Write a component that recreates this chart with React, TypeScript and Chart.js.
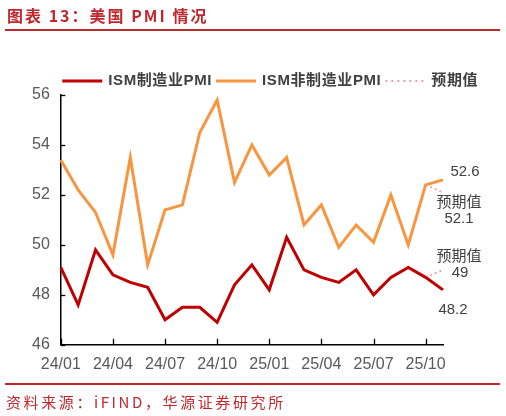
import React, { useEffect, useRef } from 'react';
import { Chart, registerables } from 'chart.js';

Chart.register(...registerables);

// ---- data ----
const categories = [
  '24/01', '24/02', '24/03', '24/04', '24/05', '24/06', '24/07', '24/08', '24/09', '24/10', '24/11', '24/12',
  '25/01', '25/02', '25/03', '25/04', '25/05', '25/06', '25/07', '25/08', '25/09', '25/10', '25/11',
];
const xTickLabels = ['24/01', '24/04', '24/07', '24/10', '25/01', '25/04', '25/07', '25/10'];
const yTickValues = [46, 48, 50, 52, 54, 56];

const ismManufacturing = [
  49.1, 47.6, 49.8, 48.8, 48.5, 48.3, 47.0, 47.5, 47.5, 46.9, 48.4, 49.2,
  48.2, 50.3, 49.0, 48.7, 48.5, 49.0, 48.0, 48.7, 49.1, 48.7, 48.2,
];
const ismNonManufacturing = [
  53.4, 52.2, 51.3, 49.6, 53.5, 49.2, 51.4, 51.6, 54.5, 55.8, 52.5, 54.0,
  52.8, 53.5, 50.8, 51.6, 49.9, 50.8, 50.1, 52.0, 50.0, 52.4, 52.6,
];
const manufacturingForecast = [
  null, null, null, null, null, null, null, null, null, null, null, null,
  null, null, null, null, null, null, null, null, null, 48.7, 49.0,
];
const nonManufacturingForecast = [
  null, null, null, null, null, null, null, null, null, null, null, null,
  null, null, null, null, null, null, null, null, null, 52.4, 52.1,
];

const seriesNames = ['ISM制造业PMI', 'ISM非制造业PMI', '预期值'];
const forecastLabel = '预期值';

// ---- styles ----
const RED = '#C00000';
const ORANGE = '#F8953E';
const PINK = '#E9A3AC';
const FONT = "'Liberation Sans', 'Noto Sans CJK SC', sans-serif";
const TEXT = '#404040';
const AXIS_TEXT = '#595959';
const BRAND = '#C0282E';

const legendPlugin = {
  id: 'customLegend',
  afterDraw(chart: any) {
    const ctx = chart.ctx;
    const items = [
      { text: seriesNames[0], color: RED, dash: [] as number[], width: 3 },
      { text: seriesNames[1], color: ORANGE, dash: [] as number[], width: 3 },
      { text: seriesNames[2], color: PINK, dash: [2, 4], width: 2 },
    ];
    ctx.save();
    ctx.font = `bold 15px ${FONT}`;
    try { (ctx as any).letterSpacing = '0.6px'; } catch (e) { /* ignore */ }
    ctx.textBaseline = 'middle';
    ctx.textAlign = 'left';
    let x = chart.chartArea.left + 1.5;
    const y = chart.chartArea.top - 14;
    items.forEach((it) => {
      const boxW = 40;
      ctx.beginPath();
      ctx.setLineDash(it.dash);
      ctx.strokeStyle = it.color;
      ctx.lineWidth = it.width;
      ctx.moveTo(x, y);
      ctx.lineTo(x + boxW, y);
      ctx.stroke();
      ctx.setLineDash([]);
      ctx.fillStyle = TEXT;
      const tx = x + boxW + 6;
      ctx.fillText(it.text, tx, y);
      x = tx + ctx.measureText(it.text).width + 4;
    });
    ctx.restore();
  },
};

const ticksPlugin = {
  id: 'innerTicks',
  afterDatasetsDraw(chart: any) {
    const ctx = chart.ctx;
    const { left, bottom } = chart.chartArea;
    const xs = chart.scales.x;
    const ys = chart.scales.y;
    ctx.save();
    ctx.strokeStyle = '#000000';
    ctx.lineWidth = 1.3;
    ys.ticks.forEach((_t: any, i: number) => {
      const y = Math.round(ys.getPixelForTick(i)) + 0.5;
      ctx.beginPath();
      ctx.moveTo(left, y);
      ctx.lineTo(left + 4.5, y);
      ctx.stroke();
    });
    xs.ticks.forEach((_t: any, i: number) => {
      const x = Math.round(xs.getPixelForTick(i)) + 0.5;
      ctx.beginPath();
      ctx.moveTo(x, bottom);
      ctx.lineTo(x, bottom - 6);
      ctx.stroke();
    });
    ctx.restore();
  },
};

const annotationPlugin = {
  id: 'endLabels',
  afterDatasetsDraw(chart: any) {
    const ctx = chart.ctx;
    const xs = chart.scales.x;
    const ys = chart.scales.y;
    const last = categories.length - 1;
    const x = xs.getPixelForValue(last);
    ctx.save();
    ctx.font = `15px ${FONT}`;
    ctx.fillStyle = TEXT;
    ctx.textAlign = 'center';
    ctx.textBaseline = 'middle';
    const nmVal = ismNonManufacturing[last];
    ctx.fillText(String(nmVal), x + 22, ys.getPixelForValue(nmVal) - 8);
    const nmF = nonManufacturingForecast[last] as number;
    const yNmF = ys.getPixelForValue(nmF);
    ctx.fillText(forecastLabel, x + 16, yNmF + 10);
    ctx.fillText(String(nmF), x + 16, yNmF + 26);
    const mF = manufacturingForecast[last] as number;
    const yMF = ys.getPixelForValue(mF);
    ctx.fillText(forecastLabel, x + 16, yMF - 13);
    ctx.fillText(String(mF), x + 17, yMF + 3);
    const mVal = ismManufacturing[last];
    ctx.fillText(String(mVal), x + 10, ys.getPixelForValue(mVal) + 20);
    ctx.restore();
  },
};

function PmiChart() {
  const ref = useRef<HTMLCanvasElement | null>(null);
  useEffect(() => {
    if (!ref.current) return;
    const chart = new Chart(ref.current, {
      type: 'line',
      data: {
        labels: categories,
        datasets: [
          {
            label: seriesNames[0],
            data: ismManufacturing,
            borderColor: RED,
            backgroundColor: RED,
            borderWidth: 3,
            pointRadius: 0,
            tension: 0,
          },
          {
            label: seriesNames[1],
            data: ismNonManufacturing,
            borderColor: ORANGE,
            backgroundColor: ORANGE,
            borderWidth: 3,
            pointRadius: 0,
            tension: 0,
          },
          {
            label: seriesNames[2],
            data: manufacturingForecast,
            borderColor: PINK,
            borderWidth: 2,
            borderDash: [2, 3],
            pointRadius: 0,
            spanGaps: false,
          },
          {
            label: seriesNames[2] + ' ',
            data: nonManufacturingForecast,
            borderColor: PINK,
            borderWidth: 2,
            borderDash: [2, 3],
            pointRadius: 0,
            spanGaps: false,
          },
        ],
      },
      options: {
        animation: false,
        responsive: false,
        devicePixelRatio: 1,
        layout: { padding: { top: 95, bottom: 32, left: 21, right: 63 } },
        plugins: {
          legend: { display: false },
          tooltip: { enabled: false },
        },
        scales: {
          x: {
            type: 'category',
            offset: false,
            grid: { display: false, drawTicks: false },
            border: { display: true, color: '#000000', width: 1.5 },
            afterBuildTicks: (scale: any) => {
              scale.ticks = scale.ticks.filter((t: any) => xTickLabels.includes(categories[t.value]));
            },
            ticks: {
              autoSkip: false,
              maxRotation: 0,
              padding: 10,
              color: AXIS_TEXT,
              font: { family: FONT, size: 16 },
            },
          },
          y: {
            min: 46,
            max: 56,
            grid: { display: false, drawTicks: false },
            border: { display: true, color: '#000000', width: 1.5 },
            afterBuildTicks: (scale: any) => {
              scale.ticks = yTickValues.map((v) => ({ value: v }));
            },
            ticks: {
              padding: 11,
              color: AXIS_TEXT,
              font: { family: FONT, size: 16 },
            },
          },
        },
      },
      plugins: [ticksPlugin, annotationPlugin, legendPlugin],
    });
    return () => chart.destroy();
  }, []);
  return <canvas ref={ref} width={506} height={416} style={{ position: 'absolute', left: 0, top: 0, width: 506, height: 416 }} />;
}

export default function App() {
  return (
    <div style={{ position: 'absolute', left: 0, top: 0, width: 506, height: 416, background: '#ffffff', overflow: 'hidden' }}>
      <PmiChart />
      <div
        style={{
          position: 'absolute', left: 7, top: 4, fontFamily: "'Noto Sans CJK SC', sans-serif", fontWeight: 700,
          fontSize: 16, lineHeight: '22px', letterSpacing: '2px', color: BRAND, whiteSpace: 'nowrap',
        }}
      >
        图表 13：美国 PMI 情况
      </div>
      <div style={{ position: 'absolute', left: 5, top: 28.5, width: 495, height: 2, background: BRAND }} />
      <div style={{ position: 'absolute', left: 5, top: 382.5, width: 495, height: 2, background: BRAND }} />
      <div
        style={{
          position: 'absolute', left: 6, top: 391, fontFamily: "'Noto Sans CJK SC', sans-serif",
          fontSize: 15, lineHeight: '21px', letterSpacing: '2.6px', color: BRAND, whiteSpace: 'nowrap',
        }}
      >
        资料来源：iFIND，华源证券研究所
      </div>
    </div>
  );
}
